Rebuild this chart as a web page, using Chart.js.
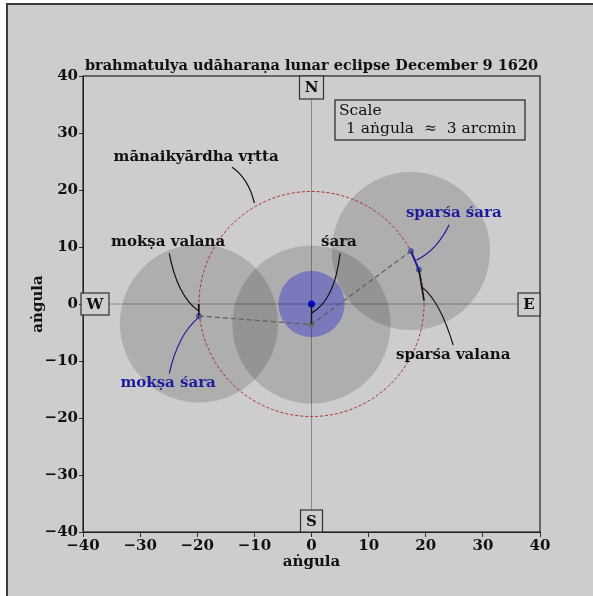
<!DOCTYPE html>
<html lang="en">
<head>
    <meta charset="UTF-8">
    <title>brahmatulya udāharaṇa lunar eclipse</title>
    <script src="https://cdn.jsdelivr.net/npm/chart.js"></script>
    <style>
        body { margin: 0; background: #ffffff; overflow: hidden; }
        #frame { position: absolute; left: 6px; top: 3px; width: 600px; height: 600px; background: #cdcdcd; border: 2px solid #3c3c3c; }
        #chart { position: absolute; left: 0; top: 0; }
    </style>
</head>
<body>
    <div id="frame"></div>
    <canvas id="chart" width="593" height="596"></canvas>

    <script>
        // valores do gráfico (em aṅgula)
        var axisTicks = [-40, -30, -20, -10, 0, 10, 20, 30, 40];
        var moonCircles = [   // [x, y, raio]
            [-19.7, -3.4, 13.85],
            [0, -3.6, 13.85],
            [17.4, 9.3, 13.85]
        ];
        var shadowCircle = [0, 0, 5.8];
        var contactCircle = [0, 0, 19.7];
        var moonPath = [{x: -19.7, y: -2.1}, {x: 0, y: -3.6}, {x: 17.4, y: 9.3}];
        var centerDot = [{x: 0, y: 0}];
        var shadowDot = [{x: 0, y: -3.6}];
        var contactDots = [{x: -19.7, y: -2.1}, {x: 17.4, y: 9.3}, {x: 18.8, y: 6.0}];
        var saraSeg = [{x: 0, y: 0}, {x: 0, y: -3.6}];
        var mokshaValanaSeg = [{x: -19.8, y: 0}, {x: -19.7, y: -2.1}];
        var sparsaSaraSeg = [{x: 17.4, y: 9.3}, {x: 18.8, y: 6.0}];
        var sparsaValanaSeg = [{x: 18.8, y: 6.0}, {x: 19.7, y: 0.6}];

        // rótulos: texto, âncora do texto, curva (início, controle, fim), cor
        var labelTexts = ['mānaikyārdha vṛtta', 'mokṣa valana', 'mokṣa śara', 'śara', 'sparśa śara', 'sparśa valana'];
        var labelAt = [[-20.2, 25.8], [-25.1, 10.9], [-25.1, -13.9], [4.8, 10.9], [24.9, 16.0], [24.8, -8.9]];
        var labelCurves = [
            [[-13.9, 24.0], [-11.0, 22.0], [-10.0, 17.7]],
            [[-24.9, 8.9], [-23.5, 1.5], [-19.8, -1.2]],
            [[-24.9, -12.2], [-23.4, -5.4], [-19.7, -2.3]],
            [[5.0, 8.9], [4.1, 0.7], [0, -1.6]],
            [[24.1, 13.9], [22.0, 9.5], [18.4, 7.7]],
            [[24.8, -7.2], [22.5, 0.5], [19.3, 3.0]]
        ];
        var labelColors = ['#111', '#111', '#1c1c9c', '#111', '#1c1c9c', '#111'];
        var compassTexts = ['N', 'S', 'W', 'E'];

        var serif = '"DejaVu Serif", "Liberation Serif", serif';
        var minus = function (v) { return String(v).replace('-', '\u2212'); };

        var extras = {
            id: 'extras',
            beforeDatasetsDraw: function (chart) {
                var c = chart.ctx, xs = chart.scales.x, ys = chart.scales.y, a = chart.chartArea;
                var px = function (v) { return xs.getPixelForValue(v); };
                var py = function (v) { return ys.getPixelForValue(v); };
                var pr = function (r) { return px(r) - px(0); };
                c.save();
                // linhas N-S e E-W
                c.strokeStyle = '#8a8a8a';
                c.lineWidth = 1;
                c.beginPath();
                c.moveTo(px(0), a.top); c.lineTo(px(0), a.bottom);
                c.moveTo(a.left, py(0)); c.lineTo(a.right, py(0));
                c.stroke();
                // círculos da lua
                c.fillStyle = 'rgba(0,0,0,0.15)';
                moonCircles.forEach(function (m) {
                    c.beginPath();
                    c.arc(px(m[0]), py(m[1]), pr(m[2]), 0, 2 * Math.PI);
                    c.fill();
                });
                c.fillStyle = 'rgba(20,20,210,0.35)';
                c.beginPath();
                c.arc(px(shadowCircle[0]), py(shadowCircle[1]), pr(shadowCircle[2]), 0, 2 * Math.PI);
                c.fill();
                c.strokeStyle = '#b02828';
                c.lineWidth = 1;
                c.setLineDash([3, 2]);
                c.beginPath();
                c.arc(px(contactCircle[0]), py(contactCircle[1]), pr(contactCircle[2]), 0, 2 * Math.PI);
                c.stroke();
                c.restore();
            },
            afterDraw: function (chart) {
                var c = chart.ctx, xs = chart.scales.x, ys = chart.scales.y, a = chart.chartArea;
                var px = function (v) { return xs.getPixelForValue(v); };
                var py = function (v) { return ys.getPixelForValue(v); };
                c.save();
                // curvas dos rótulos
                c.lineWidth = 1.2;
                labelCurves.forEach(function (k, i) {
                    c.strokeStyle = labelColors[i];
                    c.beginPath();
                    c.moveTo(px(k[0][0]), py(k[0][1]));
                    c.quadraticCurveTo(px(k[1][0]), py(k[1][1]), px(k[2][0]), py(k[2][1]));
                    c.stroke();
                });
                c.font = 'bold 15px ' + serif;
                c.textAlign = 'center';
                c.textBaseline = 'middle';
                labelTexts.forEach(function (t, i) {
                    c.fillStyle = labelColors[i];
                    c.fillText(t, px(labelAt[i][0]), py(labelAt[i][1]));
                });
                // moldura do gráfico
                c.strokeStyle = '#222';
                c.lineWidth = 1.2;
                c.strokeRect(a.left, a.top, a.right - a.left, a.bottom - a.top);
                // caixas N S W E
                var boxes = [
                    [px(0) - 12, a.top, 24, 23],
                    [px(0) - 11, a.bottom - 22, 22, 22],
                    [a.left - 2, py(0) - 11, 28, 22],
                    [a.right - 22, py(0) - 11, 22, 23]
                ];
                c.font = 'bold 15px ' + serif;
                boxes.forEach(function (b, i) {
                    c.fillStyle = '#cdcdcd';
                    c.fillRect(b[0], b[1], b[2], b[3]);
                    c.strokeStyle = '#333';
                    c.lineWidth = 1.2;
                    c.strokeRect(b[0], b[1], b[2], b[3]);
                    c.fillStyle = '#111';
                    c.fillText(compassTexts[i], b[0] + b[2] / 2, b[1] + b[3] / 2 + 1);
                });
                // caixa da escala
                c.fillStyle = '#cdcdcd';
                c.fillRect(335, 100, 190, 40);
                c.strokeStyle = '#222';
                c.strokeRect(335, 100, 190, 40);
                c.fillStyle = '#111';
                c.textAlign = 'left';
                c.font = '15.5px ' + serif;
                c.fillText('Scale', 339, 111);
                c.fillText('1 aṅgula  \u2248  3 arcmin', 346, 129);
                // título e eixos
                c.textAlign = 'center';
                c.font = 'bold 14.5px ' + serif;
                c.fillText('brahmatulya udāharaṇa lunar eclipse December 9 1620', (a.left + a.right) / 2, 66);
                c.font = 'bold 15px ' + serif;
                c.fillText('aṅgula', (a.left + a.right) / 2, 562);
                c.translate(38, (a.top + a.bottom) / 2);
                c.rotate(-Math.PI / 2);
                c.fillText('aṅgula', 0, 0);
                c.restore();
            }
        };

        var ctx = document.getElementById('chart').getContext('2d');
        var chart = new Chart(ctx, {
            type: 'scatter',
            data: {
                datasets: [
                    { data: moonPath, showLine: true, borderColor: '#5e5e5e', borderWidth: 1.2, borderDash: [5, 3], pointRadius: 0 },
                    { data: saraSeg, showLine: true, borderColor: '#111', borderWidth: 1.3, pointRadius: 0 },
                    { data: mokshaValanaSeg, showLine: true, borderColor: '#111', borderWidth: 1.3, pointRadius: 0 },
                    { data: sparsaValanaSeg, showLine: true, borderColor: '#111', borderWidth: 1.6, pointRadius: 0 },
                    { data: sparsaSaraSeg, showLine: true, borderColor: '#1c1c9c', borderWidth: 2, pointRadius: 0 },
                    { data: shadowDot, pointRadius: 3, backgroundColor: '#6e6e6e', borderWidth: 0 },
                    { data: contactDots, pointRadius: 3, backgroundColor: '#5a5a9c', borderWidth: 0 },
                    { data: centerDot, pointRadius: 3.5, backgroundColor: '#0808c8', borderWidth: 0 }
                ]
            },
            options: {
                responsive: false,
                animation: false,
                layout: { padding: { left: 0, right: 53, top: 76, bottom: 0 } },
                scales: {
                    x: {
                        type: 'linear', min: -40, max: 40,
                        afterFit: function (s) { s.height = 64; },
                        afterBuildTicks: function (s) { s.ticks = axisTicks.map(function (v) { return {value: v}; }); },
                        grid: { drawOnChartArea: false, tickLength: 5, color: '#333' },
                        border: { color: '#222' },
                        ticks: { color: '#111', padding: 0, font: { family: serif, weight: 'bold', size: 15 }, callback: minus }
                    },
                    y: {
                        type: 'linear', min: -40, max: 40,
                        afterFit: function (s) { s.width = 83; },
                        afterBuildTicks: function (s) { s.ticks = axisTicks.map(function (v) { return {value: v}; }); },
                        grid: { drawOnChartArea: false, tickLength: 4, color: '#333' },
                        border: { color: '#222' },
                        ticks: { color: '#111', padding: 1, font: { family: serif, weight: 'bold', size: 15 }, callback: minus }
                    }
                },
                plugins: {
                    legend: { display: false },
                    tooltip: { enabled: false }
                }
            },
            plugins: [extras]
        });
    </script>
</body>
</html>
